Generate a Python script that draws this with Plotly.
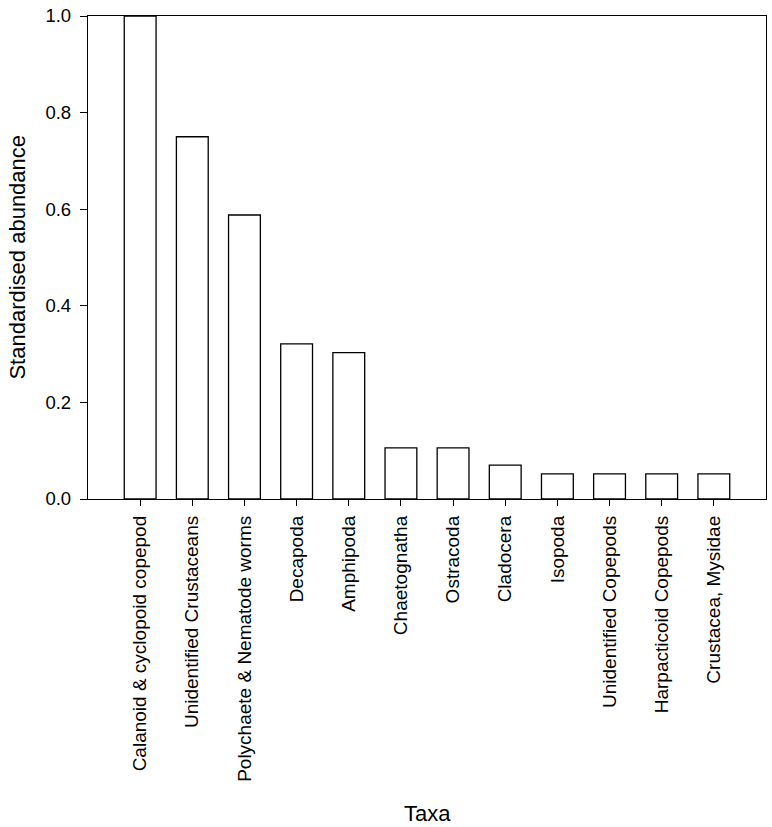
import plotly.graph_objects as go

taxa = [
    "Calanoid & cyclopoid copepod",
    "Unidentified Crustaceans",
    "Polychaete & Nematode worms",
    "Decapoda",
    "Amphipoda",
    "Chaetognatha",
    "Ostracoda",
    "Cladocera",
    "Isopoda",
    "Unidentified Copepods",
    "Harpacticoid Copepods",
    "Crustacea, Mysidae",
]
abundance = [1.0, 0.75, 0.588, 0.321, 0.303, 0.106, 0.106, 0.070, 0.052, 0.052, 0.052, 0.052]
y_ticks = [0.0, 0.2, 0.4, 0.6, 0.8, 1.0]

FONT = "Liberation Sans, Arial, sans-serif"

fig = go.Figure(
    go.Bar(
        x=list(range(len(taxa))),
        y=abundance,
        width=0.61,
        marker=dict(color="white", line=dict(color="black", width=1.3)),
    )
)

fig.update_layout(
    width=772,
    height=827,
    margin=dict(l=88, r=5, t=13, b=328),
    paper_bgcolor="white",
    plot_bgcolor="white",
    showlegend=False,
    font=dict(family=FONT, color="black", size=18),
    xaxis=dict(
        range=[-1, len(taxa)],
        tickmode="array",
        tickvals=list(range(len(taxa))),
        ticktext=taxa,
        tickangle=-90,
        ticks="outside",
        ticklen=6,
        tickwidth=1,
        tickcolor="black",
        showline=True,
        linecolor="black",
        linewidth=1.3,
        mirror=True,
        showgrid=False,
        zeroline=False,
        tickfont=dict(size=19),
        ticklabelstandoff=2,
    ),
    yaxis=dict(
        range=[0, 1.0],
        tickmode="array",
        tickvals=y_ticks,
        tickformat=".1f",
        ticks="outside",
        ticklen=7,
        tickwidth=1,
        tickcolor="black",
        showline=True,
        linecolor="black",
        linewidth=1.3,
        mirror=True,
        showgrid=False,
        zeroline=False,
        tickfont=dict(size=18.5),
        ticklabelstandoff=5,
    ),
    annotations=[
        dict(text="Taxa", xref="paper", yref="paper", x=0.5, y=-0.652,
             xanchor="center", yanchor="middle", showarrow=False,
             font=dict(size=22)),
        dict(text="Standardised abundance", xref="paper", yref="paper",
             x=-0.1046, y=0.5, xanchor="center", yanchor="middle",
             textangle=-90, showarrow=False, font=dict(size=22)),
    ],
)

fig.write_html(
    "out.html",
    config={"displayModeBar": False},
    post_script="document.body.style.margin='0';document.body.style.overflow='hidden';",
)
